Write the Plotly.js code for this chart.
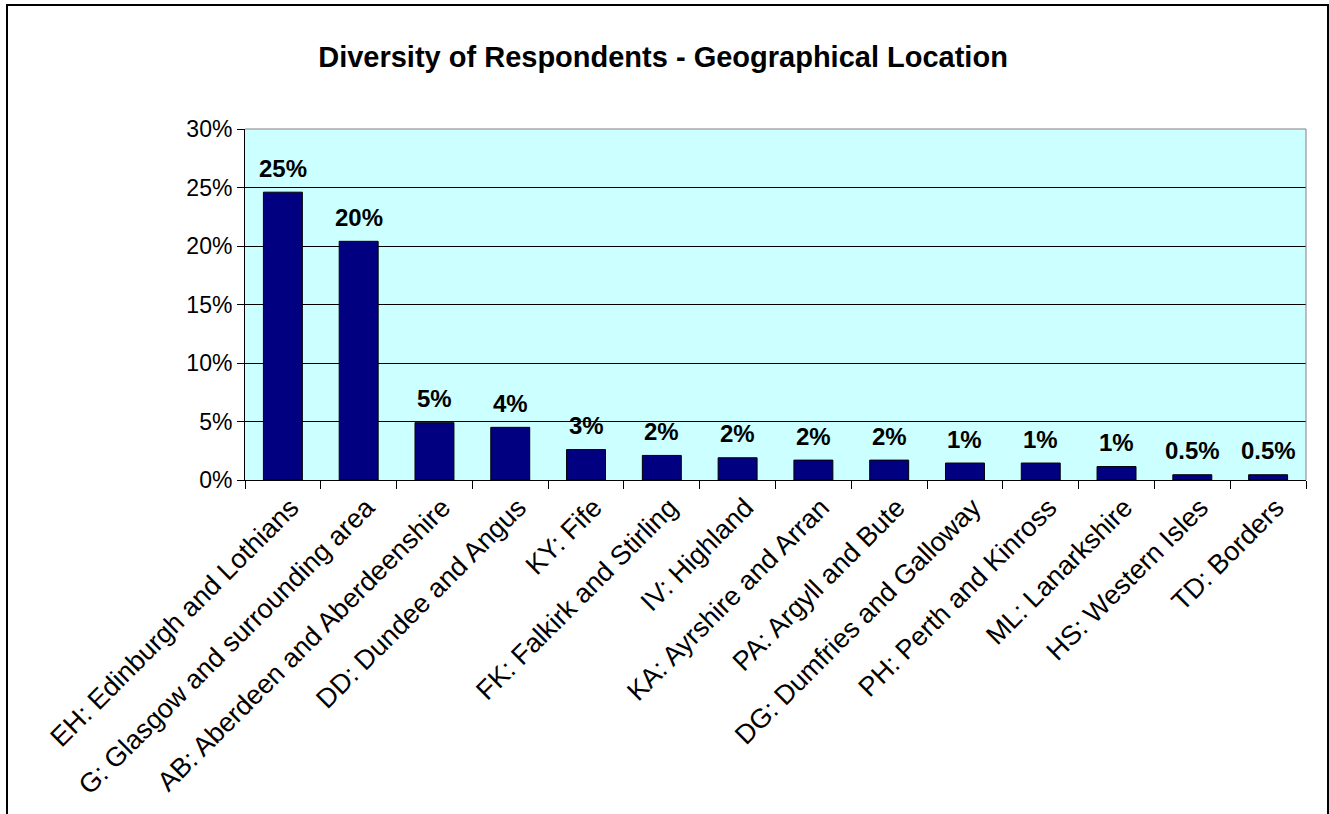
<!DOCTYPE html>
<html>
<head>
<meta charset="utf-8">
<script src="https://cdn.plot.ly/plotly-3.0.1.min.js"></script>
<style>
  html, body { margin: 0; padding: 0; width: 1329px; height: 814px; overflow: hidden; background: #ffffff; }
  #chart { position: absolute; left: 0; top: 0; width: 1329px; height: 814px; }
  #frame { position: absolute; left: 6px; top: 4px; width: 1319px; height: 1000px; border: 2px solid #000; pointer-events: none; }
</style>
</head>
<body>
<div id="chart"></div>
<div id="frame"></div>
<script>
// Data
const regions = [
  "EH: Edinburgh and Lothians",
  "G: Glasgow and surrounding area",
  "AB: Aberdeen and Aberdeenshire",
  "DD: Dundee and Angus",
  "KY: Fife",
  "FK: Falkirk and Stirling",
  "IV: Highland",
  "KA: Ayrshire and Arran",
  "PA: Argyll and Bute",
  "DG: Dumfries and Galloway",
  "PH: Perth and Kinross",
  "ML: Lanarkshire",
  "HS: Western Isles",
  "TD: Borders"
];
const sharePct = [24.6, 20.4, 4.9, 4.5, 2.6, 2.1, 1.9, 1.7, 1.7, 1.45, 1.45, 1.15, 0.45, 0.45];
const valueLabels = ["25%", "20%", "5%", "4%", "3%", "2%", "2%", "2%", "2%", "1%", "1%", "1%", "0.5%", "0.5%"];
const chartTitle = "Diversity of Respondents - Geographical Location";

const trace = {
  type: "bar",
  x: regions,
  y: sharePct,
  marker: { color: "#000080", line: { color: "#000000", width: 1 } },
  hoverinfo: "skip"
};

const labelAnnotations = regions.map((r, i) => ({
  x: r, y: sharePct[i], xref: "x", yref: "y",
  text: valueLabels[i], showarrow: false,
  yanchor: "middle", yshift: 24,
  font: { family: "Liberation Sans, Arial, sans-serif", size: 24, color: "#000", weight: "bold" }
}));

// Copy of the title sitting at the very top edge of the page (only its descenders show, as in the reference)
labelAnnotations.push({
  xref: "paper", yref: "paper", x: 0.3035, y: 1.4186,
  xanchor: "center", yanchor: "middle", showarrow: false,
  text: "<b>" + chartTitle + "</b>",
  font: { family: "Liberation Sans, Arial, sans-serif", size: 29, color: "#000" }
});

const layout = {
  width: 1329, height: 814,
  margin: { l: 245, r: 23, t: 129, b: 334 },
  paper_bgcolor: "rgba(0,0,0,0)",
  plot_bgcolor: "#CCFFFF",
  showlegend: false,
  bargap: 0.486,
  title: {
    text: "<b>" + chartTitle + "</b>",
    xref: "container", yref: "container",
    x: 0.4989, y: 0.93, xanchor: "center", yanchor: "middle",
    font: { family: "Liberation Sans, Arial, sans-serif", size: 29, color: "#000" }
  },
  xaxis: {
    type: "category",
    tickangle: -45,
    tickson: "boundaries",
    ticks: "outside", ticklen: 8, tickcolor: "#000", tickwidth: 1,
    ticklabelshift: 8,
    showline: true, linecolor: "#000", linewidth: 1,
    showgrid: false, zeroline: false,
    tickfont: { family: "Liberation Sans, Arial, sans-serif", size: 27, color: "#000" }
  },
  yaxis: {
    range: [0, 30],
    dtick: 5, tick0: 0,
    ticksuffix: "%",
    ticks: "outside", ticklen: 7, tickcolor: "#000", tickwidth: 1,
    showline: true, linecolor: "#000", linewidth: 1,
    showgrid: true, gridcolor: "#000", gridwidth: 1,
    zeroline: false,
    tickfont: { family: "Liberation Sans, Arial, sans-serif", size: 23, color: "#000" }
  },
  shapes: [
    { type: "line", xref: "paper", yref: "paper", x0: 1, x1: 1, y0: 0, y1: 1, line: { color: "#808080", width: 1 } },
    { type: "line", xref: "paper", yref: "paper", x0: 0, x1: 1, y0: 1, y1: 1, line: { color: "#808080", width: 1 } }
  ],
  annotations: labelAnnotations
};

Plotly.newPlot("chart", [trace], layout, { displayModeBar: false, staticPlot: true });
</script>
</body>
</html>
